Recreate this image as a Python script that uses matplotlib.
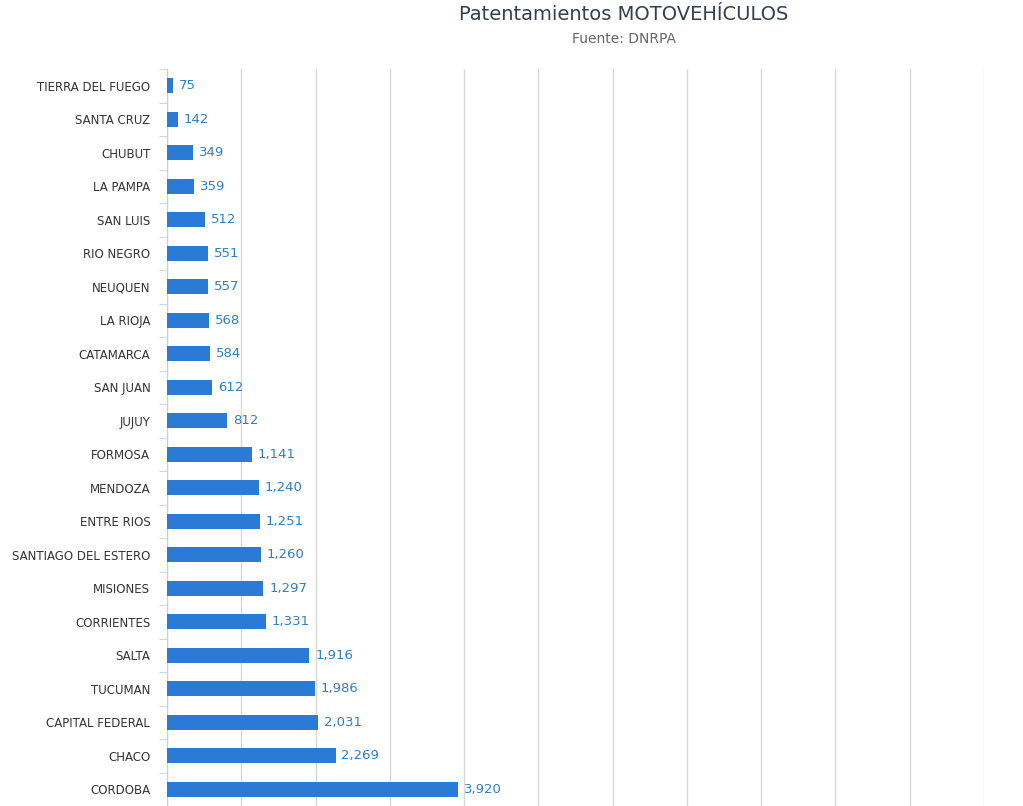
import numpy as np
import matplotlib.pyplot as plt
from matplotlib.ticker import FixedLocator

provinces = ["TIERRA DEL FUEGO", "SANTA CRUZ", "CHUBUT", "LA PAMPA", "SAN LUIS",
             "RIO NEGRO", "NEUQUEN", "LA RIOJA", "CATAMARCA", "SAN JUAN", "JUJUY",
             "FORMOSA", "MENDOZA", "ENTRE RIOS", "SANTIAGO DEL ESTERO", "MISIONES",
             "CORRIENTES", "SALTA", "TUCUMAN", "CAPITAL FEDERAL", "CHACO", "CORDOBA"]
values = [75, 142, 349, 359, 512, 551, 557, 568, 584, 612, 812,
          1141, 1240, 1251, 1260, 1297, 1331, 1916, 1986, 2031, 2269, 3920]

bar_color = "#2b7bd6"
label_color = "#2f7fc1"

fig = plt.figure(figsize=(10.23, 8.06), dpi=100)
ax = fig.add_axes([167/1023, 0, (984-167)/1023, 1 - 69/806])

y = np.arange(len(provinces))
ax.barh(y, values, height=0.45, color=bar_color, zorder=3)
for yi, v in zip(y, values):
    ax.text(v + 80, yi, f"{v:,}", va="center", ha="left", fontsize=9.5,
            color=label_color, zorder=4)

ax.set_ylim(len(provinces) - 0.5, -0.5)
ax.set_xlim(0, 11000)
ax.set_xticks(np.arange(0, 11001, 1000))
ax.set_xticklabels([])
ax.tick_params(axis="x", length=0)
ax.grid(axis="x", color="#d8d8d8", linewidth=1, zorder=0)

ax.set_yticks(y)
ax.set_yticklabels(provinces, fontsize=8.5, color="#333333")
ax.yaxis.set_minor_locator(FixedLocator(np.arange(-0.5, len(provinces), 1)))
ax.tick_params(axis="y", which="major", length=0, pad=12)
ax.tick_params(axis="y", which="minor", length=6, color="#c0d0e0")

for s in ["top", "right", "bottom"]:
    ax.spines[s].set_visible(False)
ax.spines["left"].set_color("#c0d0e0")

fig.text(0.61, 0.982, "Patentamientos MOTOVEHÍCULOS", ha="center", va="center",
         fontsize=14, color="#333f4f")
fig.text(0.61, 0.952, "Fuente: DNRPA", ha="center", va="center",
         fontsize=10, color="#666666")

fig.savefig("out.png", dpi=100)
